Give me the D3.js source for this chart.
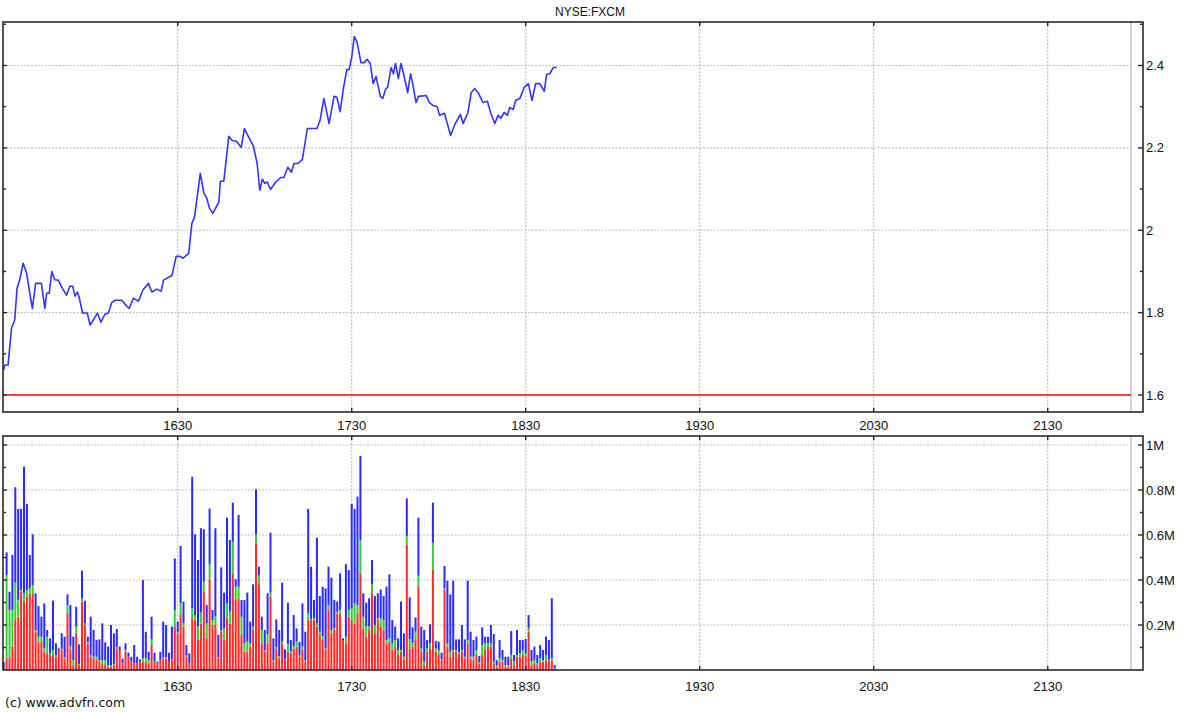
<!DOCTYPE html>
<html><head><meta charset="utf-8">
<script src="https://cdn.jsdelivr.net/npm/d3@7"></script>
<style>body{margin:0;background:#fff}svg{display:block}text{font-family:"Liberation Sans",Arial,sans-serif;fill:#111}</style>
</head><body><svg id="c" width="1180" height="712"></svg>
<script>
const title = "NYSE:FXCM";
const footer = "(c) www.advfn.com";
const tickLabels = ["1630","1730","1830","1930","2030","2130"];
const priceTicks = [1.6, 1.8, 2.0, 2.2, 2.4];
const priceTickLabels = ["1.6","1.8","2","2.2","2.4"];
const volTicks = [200, 400, 600, 800, 1000];
const volTickLabels = ["0.2M","0.4M","0.6M","0.8M","1M"];
const prevClose = 1.6;

// price samples: minutes after 15:30, and price
const priceMinutes = [0,0.4,1.5,2.7,3.8,4.6,5.5,6.7,7.9,9,9.9,11,13,14.2,14.8,15.7,16.6,17.6,18.8,20,21.7,22.8,23.8,24.6,25.4,26,27.2,28.8,29.8,30.9,32.3,33.5,34.9,36.1,37.3,38.4,40.7,41.9,43.3,44.7,46.5,48,49.9,51.1,52.8,54.3,55.1,56.9,58,59.5,60.7,61.8,63.8,64.9,65.8,67.8,69,69.9,71,72.1,74.2,74.7,75.9,77.6,78.8,80.3,81.9,83,84.2,86.1,87.4,88.3,89.2,90,90.9,92,93.8,95.5,96.6,98,99.2,100.1,101.5,103,104.7,108,109.1,110.4,112.2,113.9,114.9,116,117.2,118.3,119.1,120,120.9,121.8,123.2,124.3,125.3,126.4,127.4,128.4,129.9,130.7,131.8,132.4,133.6,134.4,135.1,136.1,137,137.9,139.3,140.3,140.8,142.2,143,145.7,146.8,148,149.5,150.3,152,154.1,155.7,157.5,158.4,160.1,161.2,162.4,163.6,165.3,166.8,167.9,169.3,170.5,171.4,172.6,173.7,174.5,175.7,176.5,178,179.5,180.9,182.2,183.4,184.9,186.4,187.2,188.3,189.5,190.7];
const priceValues = [1.661,1.673,1.673,1.762,1.782,1.859,1.879,1.92,1.896,1.847,1.81,1.871,1.871,1.81,1.847,1.847,1.90,1.88,1.879,1.862,1.842,1.864,1.864,1.84,1.85,1.838,1.799,1.799,1.77,1.782,1.799,1.777,1.796,1.799,1.825,1.83,1.83,1.82,1.81,1.835,1.828,1.855,1.871,1.85,1.857,1.852,1.879,1.886,1.89,1.937,1.937,1.932,1.944,2.017,2.032,2.138,2.09,2.08,2.053,2.041,2.068,2.119,2.119,2.228,2.218,2.216,2.201,2.247,2.23,2.204,2.162,2.097,2.124,2.114,2.117,2.099,2.117,2.128,2.128,2.153,2.141,2.162,2.162,2.172,2.247,2.247,2.267,2.32,2.259,2.325,2.323,2.288,2.347,2.39,2.39,2.42,2.47,2.458,2.407,2.407,2.415,2.405,2.356,2.373,2.325,2.32,2.344,2.347,2.395,2.38,2.405,2.368,2.405,2.38,2.334,2.38,2.364,2.31,2.325,2.327,2.31,2.303,2.30,2.279,2.284,2.23,2.259,2.281,2.259,2.286,2.334,2.344,2.334,2.31,2.313,2.286,2.259,2.279,2.272,2.286,2.279,2.298,2.293,2.315,2.32,2.347,2.356,2.315,2.356,2.356,2.337,2.378,2.38,2.395,2.395];

// per-minute volume (thousands of shares), bar i at 15:30 + i minutes
const volRed = [0,52,55,104,222,237,348,304,326,341,341,170,126,126,81,74,67,67,59,89,89,52,252,89,22,163,22,304,200,119,59,52,44,37,30,22,15,15,22,96,89,30,81,59,37,30,30,37,37,37,30,111,37,30,44,52,52,37,44,193,163,244,193,59,30,230,222,133,
207,348,141,400,200,200,52,170,133,230,207,430,311,319,156,81,81,104,178,563,385,119,81,119,326,37,96,52,119,44,81,77,96,104,60,89,37,222,222,222,193,156,133,89,267,
160,178,252,252,133,119,237,222,207,252,430,185,148,178,341,163,222,193,178,119,126,89,104,67,81,44,556,96,104,133,370,81,22,81,96,444,81,67,44,359,104,59,81,81,74,81,52,119,52,44,
67,30,67,89,104,104,30,15,37,37,15,15,52,22,59,59,67,62,170,22,30,22,37,37,44,41,44,7];
const volGreen = [5,370,212,163,166,74,8,37,30,22,37,8,22,22,15,74,5,22,5,0,5,5,37,15,22,30,5,15,7,5,5,7,15,5,14,20,5,5,5,5,0,0,8,0,0,0,0,0,15,15,14,25,0,0,0,5,5,0,5,74,5,52,14,5,0,44,22,60,
48,45,66,70,22,37,5,5,52,66,52,140,59,51,81,38,45,15,15,40,37,59,5,41,18,5,5,10,7,5,35,5,11,22,5,15,5,30,5,8,14,14,18,7,22,
18,7,7,15,0,29,30,52,89,37,148,52,45,15,41,37,8,37,44,14,15,30,29,22,8,15,40,40,15,37,49,15,15,15,23,122,15,22,5,4,15,22,8,8,5,8,7,14,7,15,
22,5,44,30,15,15,7,5,15,7,7,7,15,15,8,15,22,12,15,15,14,8,15,7,23,3,8,0];
const volBlue = [30,101,81,244,424,405,360,563,382,148,225,163,136,89,200,30,69,219,55,7,69,91,47,185,104,88,87,122,101,24,173,119,74,94,163,81,84,180,136,81,15,20,30,18,22,81,29,10,348,118,37,101,40,7,37,158,143,40,144,229,47,255,97,47,44,585,359,296,
375,232,82,247,45,393,99,281,159,381,319,174,33,319,74,192,218,96,188,200,37,59,92,181,266,99,124,116,262,43,183,51,137,59,60,192,128,464,232,81,381,159,219,267,170,
232,126,45,163,8,322,177,464,420,481,373,104,106,126,107,129,111,128,107,237,284,103,60,52,215,104,167,187,71,64,258,97,141,37,84,178,33,37,28,99,278,255,308,47,57,111,77,264,111,74,
59,27,79,29,29,81,123,24,81,45,37,37,106,30,111,59,44,64,59,52,60,37,59,45,81,89,267,15];

const svg = d3.select("#c");
const t0 = new Date(2014, 5, 2, 15, 30);
const at = m => new Date(t0.getTime() + m * 60000);
const tickTimes = tickLabels.map(s => at((+s.slice(0, 2)) * 60 + (+s.slice(2)) - (15 * 60 + 30)));

const L = 3, R = 1143, G = 1131;
const P = {top: 22, bottom: 412}, V = {top: 436, bottom: 670};
const x = d3.scaleTime().domain([t0, at(390)]).range([3.7, 1134.7]);
const yP = d3.scaleLinear().domain([1.6, 2.4]).range([395, 65.5]);
const yV = d3.scaleLinear().domain([0, 1000]).range([670, 445]);

// title
svg.append("text").attr("x", 590).attr("y", 16).attr("text-anchor", "middle")
  .style("font-size", "12px").text(title);

function panelGrid(panel, yScale, ticks, skip) {
  const g = svg.append("g");
  ticks.forEach(v => {
    if (skip !== undefined && v === skip) return;
    g.append("line").attr("x1", L).attr("x2", G).attr("y1", yScale(v)).attr("y2", yScale(v))
      .attr("stroke", "#c4c4b0").attr("stroke-width", 1.2).attr("stroke-dasharray", "2,1.5");
  });
  tickTimes.forEach(t => {
    g.append("line").attr("x1", x(t)).attr("x2", x(t)).attr("y1", panel.top).attr("y2", panel.bottom)
      .attr("stroke", "#b2c6c6").attr("stroke-width", 1.2).attr("stroke-dasharray", "2,1.5");
  });
  g.append("line").attr("x1", G).attr("x2", G).attr("y1", panel.top).attr("y2", panel.bottom)
    .attr("stroke", "#aaaaaa").attr("stroke-width", 1);
}
panelGrid(P, yP, priceTicks, prevClose);
panelGrid(V, yV, volTicks);

// previous close line
svg.append("line").attr("x1", L).attr("x2", G).attr("y1", yP(prevClose)).attr("y2", yP(prevClose))
  .attr("stroke", "#ff0000").attr("stroke-width", 1.3);

// price line
const pts = priceMinutes.map((m, i) => [at(m), priceValues[i]]);
svg.append("path").datum(pts)
  .attr("fill", "none").attr("stroke", "#3434ff").attr("stroke-width", 1.6).attr("stroke-linejoin", "round")
  .attr("d", d3.line().x(d => x(d[0])).y(d => yP(d[1])));

// volume bars
const volRows = volRed.map((r, i) => ({t: at(i), red: r, green: volGreen[i], blue: volBlue[i]}));
const stack = d3.stack().keys(["red", "green", "blue"])(volRows);
const colors = {red: "#ff2b2b", green: "#2ed12e", blue: "#2a2aff"};
stack.forEach(layer => {
  svg.append("g").attr("fill", colors[layer.key]).selectAll("rect").data(layer).join("rect")
    .attr("x", d => x(d.data.t) - 1).attr("width", 2)
    .attr("y", d => yV(d[1])).attr("height", d => Math.max(0, yV(d[0]) - yV(d[1])));
});

// frames
function frame(panel) {
  const g = svg.append("g").attr("stroke", "#2a2a2a").attr("fill", "none");
  g.append("rect").attr("x", L).attr("y", panel.top).attr("width", R - L).attr("height", panel.bottom - panel.top)
    .attr("stroke-width", 1.6);
  tickTimes.forEach(t => {
    g.append("line").attr("x1", x(t)).attr("x2", x(t)).attr("y1", panel.top).attr("y2", panel.top + 4).attr("stroke-width", 1.4);
    g.append("line").attr("x1", x(t)).attr("x2", x(t)).attr("y1", panel.bottom).attr("y2", panel.bottom - 4).attr("stroke-width", 1.4);
  });
}
frame(P); frame(V);

// y ticks (every 0.1 for price, 100k for volume)
const priceMinor = d3.range(16, 26).map(d => d / 10);
priceMinor.forEach(v => {
  const major = priceTicks.some(t => Math.abs(t - v) < 1e-6);
  const yy = yP(v);
  if (yy < P.top || yy > P.bottom) return;
  svg.append("line").attr("x1", L).attr("x2", L + (major ? 4 : 3)).attr("y1", yy).attr("y2", yy).attr("stroke", "#2a2a2a").attr("stroke-width", 1.4);
  svg.append("line").attr("x1", R - (major ? 5 : 3)).attr("x2", R).attr("y1", yy).attr("y2", yy).attr("stroke", "#2a2a2a").attr("stroke-width", 1.4);
});
d3.range(100, 1100, 100).forEach(v => {
  const major = volTicks.includes(v);
  const yy = yV(v);
  svg.append("line").attr("x1", L).attr("x2", L + (major ? 4 : 3)).attr("y1", yy).attr("y2", yy).attr("stroke", "#2a2a2a").attr("stroke-width", 1.4);
  svg.append("line").attr("x1", R - (major ? 5 : 3)).attr("x2", R).attr("y1", yy).attr("y2", yy).attr("stroke", "#2a2a2a").attr("stroke-width", 1.4);
});

// y labels
priceTicks.forEach((v, i) => {
  svg.append("text").attr("x", 1146).attr("y", yP(v) + 4.5).style("font-size", "13px").text(priceTickLabels[i]);
});
volTicks.forEach((v, i) => {
  svg.append("text").attr("x", 1146).attr("y", yV(v) + 4.5).style("font-size", "13px").text(volTickLabels[i]);
});

// x labels
const fmt = d3.timeFormat("%H%M");
tickTimes.forEach(t => {
  svg.append("text").attr("x", x(t)).attr("y", 430).attr("text-anchor", "middle").style("font-size", "13px").text(fmt(t));
  svg.append("text").attr("x", x(t)).attr("y", 691).attr("text-anchor", "middle").style("font-size", "13px").text(fmt(t));
});

svg.append("text").attr("x", 5).attr("y", 707).style("font-family", "'DejaVu Sans',sans-serif")
  .style("font-size", "12.5px").text(footer);
</script>
</body></html>
